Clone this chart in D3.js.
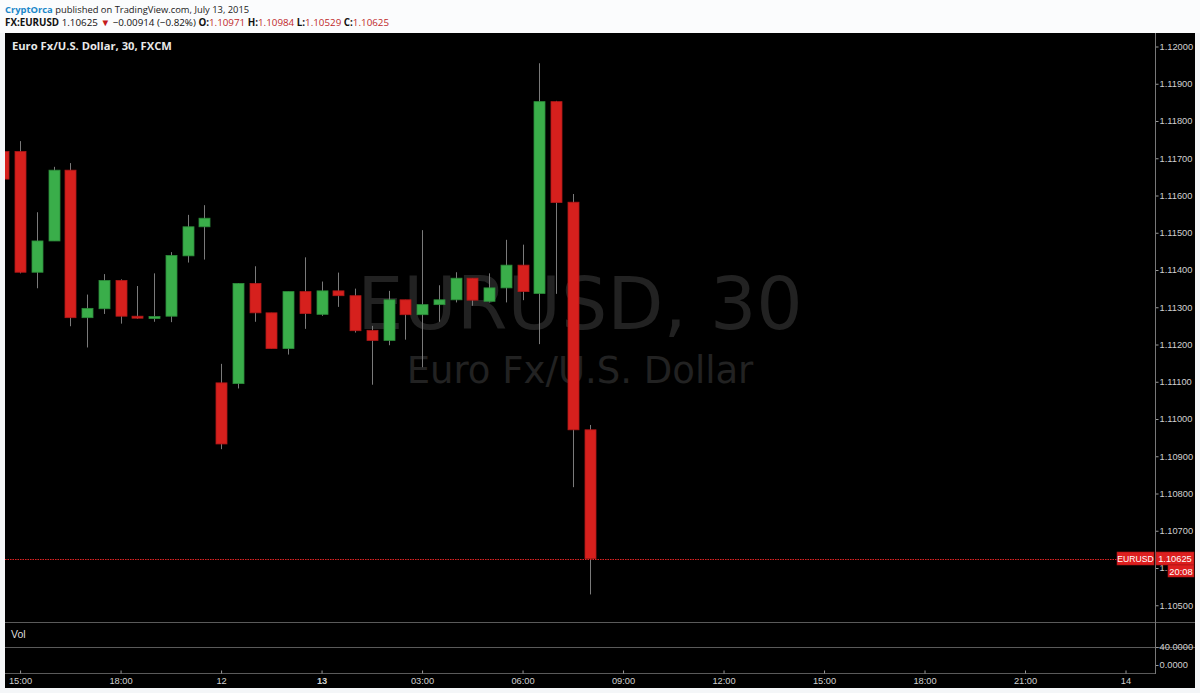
<!DOCTYPE html>
<html>
<head>
<meta charset="utf-8">
<script src="https://cdn.jsdelivr.net/npm/d3@7"></script>
<style>
  body { margin: 0; background: #f4f6f8; }
  svg { display: block; }
</style>
</head>
<body>
<div id="chart"></div>
<script>
// Bars, 30 min, index 0 = Fri 15:00 (index -1 is cut at the left edge)
const barIndex = d3.range(-1, 35);
const openPrices = [1.11718, 1.11718, 1.11394, 1.11478, 1.11668, 1.11272, 1.11296, 1.11372, 1.11276, 1.11271, 1.11276, 1.11438, 1.11516, 1.11097, 1.11095, 1.11364, 1.11285, 1.11189, 1.11342, 1.11281, 1.11344, 1.11331, 1.11238, 1.11211, 1.11320, 1.11280, 1.11307, 1.11320, 1.11378, 1.11316, 1.11352, 1.11413, 1.11337, 1.11852, 1.11582, 1.10971];
const highPrices = [1.11730, 1.11746, 1.11555, 1.11677, 1.11687, 1.11334, 1.11389, 1.11375, 1.11357, 1.11391, 1.11448, 1.11548, 1.11574, 1.11148, 1.11365, 1.11410, 1.11285, 1.11342, 1.11434, 1.11369, 1.11393, 1.11350, 1.11250, 1.11344, 1.11320, 1.11507, 1.11359, 1.11394, 1.11378, 1.11391, 1.11481, 1.11468, 1.11955, 1.11854, 1.11604, 1.10984];
const lowPrices = [1.11640, 1.11391, 1.11351, 1.11478, 1.11249, 1.11192, 1.11282, 1.11256, 1.11269, 1.11261, 1.11260, 1.11420, 1.11428, 1.10919, 1.11082, 1.11261, 1.11189, 1.11173, 1.11242, 1.11277, 1.11301, 1.11232, 1.11092, 1.11198, 1.11213, 1.11139, 1.11261, 1.11313, 1.11304, 1.11313, 1.11313, 1.11319, 1.11201, 1.11336, 1.10817, 1.10529];
const closePrices = [1.11644, 1.11394, 1.11478, 1.11668, 1.11272, 1.11297, 1.11372, 1.11276, 1.11271, 1.11275, 1.11439, 1.11516, 1.11539, 1.10933, 1.11364, 1.11285, 1.11189, 1.11342, 1.11283, 1.11344, 1.11331, 1.11237, 1.11211, 1.11320, 1.11280, 1.11307, 1.11320, 1.11378, 1.11319, 1.11352, 1.11413, 1.11342, 1.11852, 1.11581, 1.10971, 1.10625];

// Axis labels
const priceTicks = d3.range(1.105, 1.12001, 0.001);
const timeTickIndex = [0, 6, 12, 18, 24, 30, 36, 42, 48, 54, 60, 66];
const timeTickLabels = ["15:00", "18:00", "12", "13", "03:00", "06:00", "09:00", "12:00", "15:00", "18:00", "21:00", "14"];
const volTicks = [40, 0];
const lastPrice = 1.10625;

const width = 1200;
const height = 693;
const green = "#3aae4a";
const red = "#d6201d";

const svg = d3.select("#chart")
  .append("svg")
    .attr("width", width)
    .attr("height", height);

// Header
svg.append("rect").attr("width", width).attr("height", 33).attr("fill", "#fbfcfd");

let head1 = svg.append("text")
  .attr("x", 5).attr("y", 13)
  .attr("font-family", "Open Sans, sans-serif")
  .attr("font-size", 9.4)
  .attr("fill", "#222");
head1.append("tspan").attr("fill", "#1a87c9").attr("font-weight", "bold").text("CryptOrca");
head1.append("tspan").text(" published on TradingView.com, July 13, 2015");

let head2 = svg.append("text")
  .attr("x", 5).attr("y", 26)
  .attr("font-family", "Open Sans, sans-serif")
  .attr("font-size", 9.8)
  .attr("fill", "#111");
head2.append("tspan").attr("font-weight", "bold").text("FX:EURUSD");
head2.append("tspan").text(" 1.10625 ");
head2.append("tspan").attr("fill", "#c41a1a").text("▼");
head2.append("tspan").text(" \u22120.00914 (\u22120.82%) ");
[["O:", "1.10971"], [" H:", "1.10984"], [" L:", "1.10529"], [" C:", "1.10625"]].forEach(([k, v]) => {
  head2.append("tspan").attr("font-weight", "bold").text(k);
  head2.append("tspan").attr("fill", "#c0282a").text(v);
});

// Chart panel
const paneLeft = 5, paneRight = 1155, paneTop = 33, mainBottom = 622, volLine = 647, axisY = 673;
svg.append("rect")
  .attr("x", paneLeft).attr("y", paneTop)
  .attr("width", 1190).attr("height", 655)
  .attr("fill", "#000");

let x = d3.scaleLinear()
  .domain([-0.9, 67.76])
  .range([paneLeft, paneRight]);

let y = d3.scaleLinear()
  .domain([1.105, 1.12])
  .range([605.25, 46.5]);

let yVol = d3.scaleLinear()
  .domain([0, 40])
  .range([665, volLine]);

svg.append("defs").append("clipPath").attr("id", "main-clip")
  .append("rect")
    .attr("x", paneLeft).attr("y", paneTop)
    .attr("width", paneRight - paneLeft).attr("height", mainBottom - paneTop);

// Watermark
svg.append("text")
  .attr("x", (paneLeft + paneRight) / 2).attr("y", 329)
  .attr("text-anchor", "middle")
  .attr("font-family", "DejaVu Sans, sans-serif")
  .attr("font-size", 73)
  .attr("fill", "#222")
  .text("EURUSD, 30");
svg.append("text")
  .attr("x", (paneLeft + paneRight) / 2).attr("y", 383)
  .attr("text-anchor", "middle")
  .attr("font-family", "DejaVu Sans, sans-serif")
  .attr("font-size", 37)
  .attr("fill", "#222")
  .text("Euro Fx/U.S. Dollar");

// Pane label
svg.append("text")
  .attr("x", 12).attr("y", 50)
  .attr("font-family", "Open Sans, sans-serif")
  .attr("font-size", 11.2)
  .attr("font-weight", "bold")
  .attr("fill", "#e8e8e8")
  .text("Euro Fx/U.S. Dollar, 30, FXCM");

// Candles
let bars = barIndex.map((idx, i) => ({
  idx: idx,
  open: openPrices[i],
  high: highPrices[i],
  low: lowPrices[i],
  close: closePrices[i]
}));

let candles = svg.append("g")
  .attr("clip-path", "url(#main-clip)")
  .selectAll(".candle")
  .data(bars)
  .enter()
  .append("g")
    .classed("candle", true);

candles.append("line")
  .attr("x1", d => Math.round(x(d.idx)) + 0.5)
  .attr("x2", d => Math.round(x(d.idx)) + 0.5)
  .attr("y1", d => y(d.high))
  .attr("y2", d => y(d.low))
  .attr("stroke", "#7a7a7a")
  .attr("stroke-width", 1);

const bodyW = 11;
candles.append("rect")
  .attr("x", d => Math.round(x(d.idx)) + 0.5 - bodyW / 2)
  .attr("y", d => y(Math.max(d.open, d.close)))
  .attr("width", bodyW)
  .attr("height", d => Math.max(2, Math.abs(y(d.open) - y(d.close))))
  .attr("fill", d => d.close >= d.open ? green : red)
  .attr("stroke", d => d.close >= d.open ? "#2c8c3a" : "#b01818")
  .attr("stroke-width", 0.8);

// Last price line
svg.append("line")
  .attr("x1", paneLeft).attr("x2", 1117)
  .attr("y1", Math.round(y(lastPrice)) + 0.5).attr("y2", Math.round(y(lastPrice)) + 0.5)
  .attr("stroke", "#e02222")
  .attr("stroke-width", 1)
  .attr("stroke-dasharray", "1.5,1");

// Pane separators
[mainBottom, volLine, axisY].forEach(py => {
  svg.append("line")
    .attr("x1", paneLeft).attr("x2", py === axisY ? paneRight : 1195)
    .attr("y1", py + 0.5).attr("y2", py + 0.5)
    .attr("stroke", "#5a5a5a");
});

svg.append("text")
  .attr("x", 11).attr("y", 638)
  .attr("font-family", "Liberation Sans, Arial, sans-serif")
  .attr("font-size", 10.5)
  .attr("fill", "#ddd")
  .text("Vol");

// Price axis
let yAxis = svg.append("g")
  .attr("transform", `translate(${paneRight + 0.5},0)`)
  .call(d3.axisRight(y)
    .tickValues(priceTicks)
    .tickFormat(d3.format(".5f"))
    .tickSize(3)
    .tickPadding(1));

let volAxis = svg.append("g")
  .attr("transform", `translate(${paneRight + 0.5},0)`)
  .call(d3.axisRight(yVol)
    .tickValues(volTicks)
    .tickFormat(d3.format(".4f"))
    .tickSize(3)
    .tickPadding(1));

[yAxis, volAxis].forEach(g => {
  g.select(".domain").remove();
  g.selectAll("line").attr("stroke", "#999");
  g.selectAll("text")
    .attr("fill", "#d0d0d0")
    .attr("font-family", "Liberation Sans, Arial, sans-serif")
    .attr("font-size", 9.3);
});

svg.append("line")
  .attr("x1", paneRight + 0.5).attr("x2", paneRight + 0.5)
  .attr("y1", paneTop).attr("y2", axisY + 1)
  .attr("stroke", "#777");

// Time axis
let xAxis = svg.append("g")
  .attr("transform", `translate(0,${axisY + 0.5})`)
  .call(d3.axisBottom(x)
    .tickValues(timeTickIndex)
    .tickFormat((d, i) => timeTickLabels[i])
    .tickSize(-3)
    .tickPadding(5));

xAxis.select(".domain").remove();
xAxis.selectAll("line").attr("stroke", "#999");
xAxis.selectAll("text")
  .attr("dy", "0.6em")
  .attr("fill", "#d0d0d0")
  .attr("font-family", "Liberation Sans, Arial, sans-serif")
  .attr("font-size", 9.3)
  .attr("font-weight", (d, i) => timeTickLabels[i] === "13" ? "bold" : "normal");

// Last price labels
const labelY = Math.round(y(lastPrice)) - 7;
let tags = [
  { x: 1117, w: 37, text: "EURUSD", yy: labelY, h: 13 },
  { x: 1156, w: 38, text: "1.10625", yy: labelY, h: 13 },
  { x: 1168, w: 26, text: "20:08", yy: labelY + 13, h: 12 }
];
let tag = svg.append("g").selectAll("g").data(tags).enter().append("g");
tag.append("rect")
  .attr("x", d => d.x).attr("y", d => d.yy)
  .attr("width", d => d.w).attr("height", d => d.h)
  .attr("fill", "#dd1f1f")
  .attr("stroke", "#a51414")
  .attr("stroke-width", 0.6);
tag.append("text")
  .attr("x", d => d.x + d.w / 2).attr("y", d => d.yy + 10)
  .attr("text-anchor", "middle")
  .attr("font-family", "Liberation Sans, Arial, sans-serif")
  .attr("font-size", d => d.text === "EURUSD" ? 8.6 : 9.3)
  .attr("fill", "#fff")
  .text(d => d.text);
</script>
</body>
</html>
